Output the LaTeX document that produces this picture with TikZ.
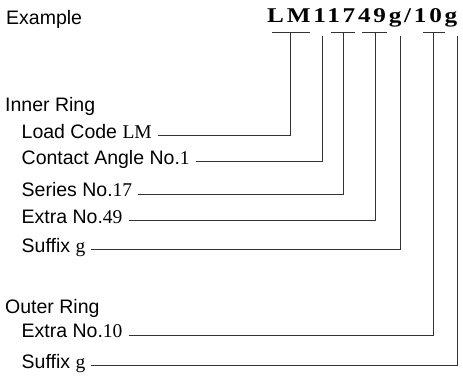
\documentclass[tikz,border=0pt]{standalone}
\usepackage{fontspec}
\setmainfont{Liberation Sans}
\newfontfamily\serifpart{Liberation Serif}
\newfontfamily\titlefont[LetterSpace=11]{Liberation Serif}
\begin{document}
\begin{tikzpicture}[x=1bp,y=-1bp,
  lab/.style={anchor=base west, inner sep=0pt, font=\fontsize{19.5bp}{22bp}\selectfont},
  codetext/.style={anchor=base west, inner sep=0pt, xscale=1.2, transform shape,
     font=\titlefont\bfseries\fontsize{21bp}{24bp}\selectfont},
  conn/.style={draw=black!80, line width=0.8bp},
  gap/.style={xshift=6bp}]
\useasboundingbox (0,0) rectangle (463,377);
% title
\node[lab] (ex) at (6,24) {Example};
\node[codetext] (code) at (267,22) {LM11749g/10g};
% underlines and tops of leaders
\coordinate (uLMa) at (272,32); \coordinate (uLMb) at (310,32);
\coordinate (u17a) at (331,32); \coordinate (u17b) at (355,32);
\coordinate (u49a) at (362,32); \coordinate (u49b) at (387,32);
\coordinate (u10a) at (423,32); \coordinate (u10b) at (445,32);
\draw[conn] (uLMa) -- (uLMb);
\draw[conn] (u17a) -- (u17b);
\draw[conn] (u49a) -- (u49b);
\draw[conn] (u10a) -- (u10b);
\coordinate (tLM) at (290,32);
\coordinate (t1) at (322,36);
\coordinate (t17) at (343,32);
\coordinate (t49) at (375,32);
\coordinate (tg) at (400,36);
\coordinate (t10) at (433,32);
\coordinate (tg2) at (457,36);
% labels
\node[lab] (inner) at (5,111.5) {Inner Ring};
\node[lab] (load) at (21.5,138) {Load Code {\serifpart LM}};
\node[lab] (angle) at (21.5,164.5) {Contact Angle No.{\serifpart 1}};
\node[lab] (series) at (21.5,196.7) {Series No.{\serifpart 17}};
\node[lab] (extra) at (21.5,223.5) {Extra No.{\serifpart 49}};
\node[lab] (suffix) at (21.5,252) {Suffix {\serifpart g}};
\node[lab] (outer) at (5,313) {Outer Ring};
\node[lab] (oextra) at (21.5,337.7) {Extra No.{\serifpart 10}};
\node[lab] (osuffix) at (21.5,368.3) {Suffix {\serifpart g}};
% leaders
\draw[conn] ([gap]load.mid east) -| (tLM);
\draw[conn] ([gap]angle.mid east) -| (t1);
\draw[conn] ([gap]series.mid east) -| (t17);
\draw[conn] ([gap]extra.mid east) -| (t49);
\draw[conn] ([gap]suffix.mid east) -| (tg);
\draw[conn] ([gap]oextra.mid east) -| (t10);
\draw[conn] ([gap]osuffix.mid east) -| (tg2);
\end{tikzpicture}
\end{document}
